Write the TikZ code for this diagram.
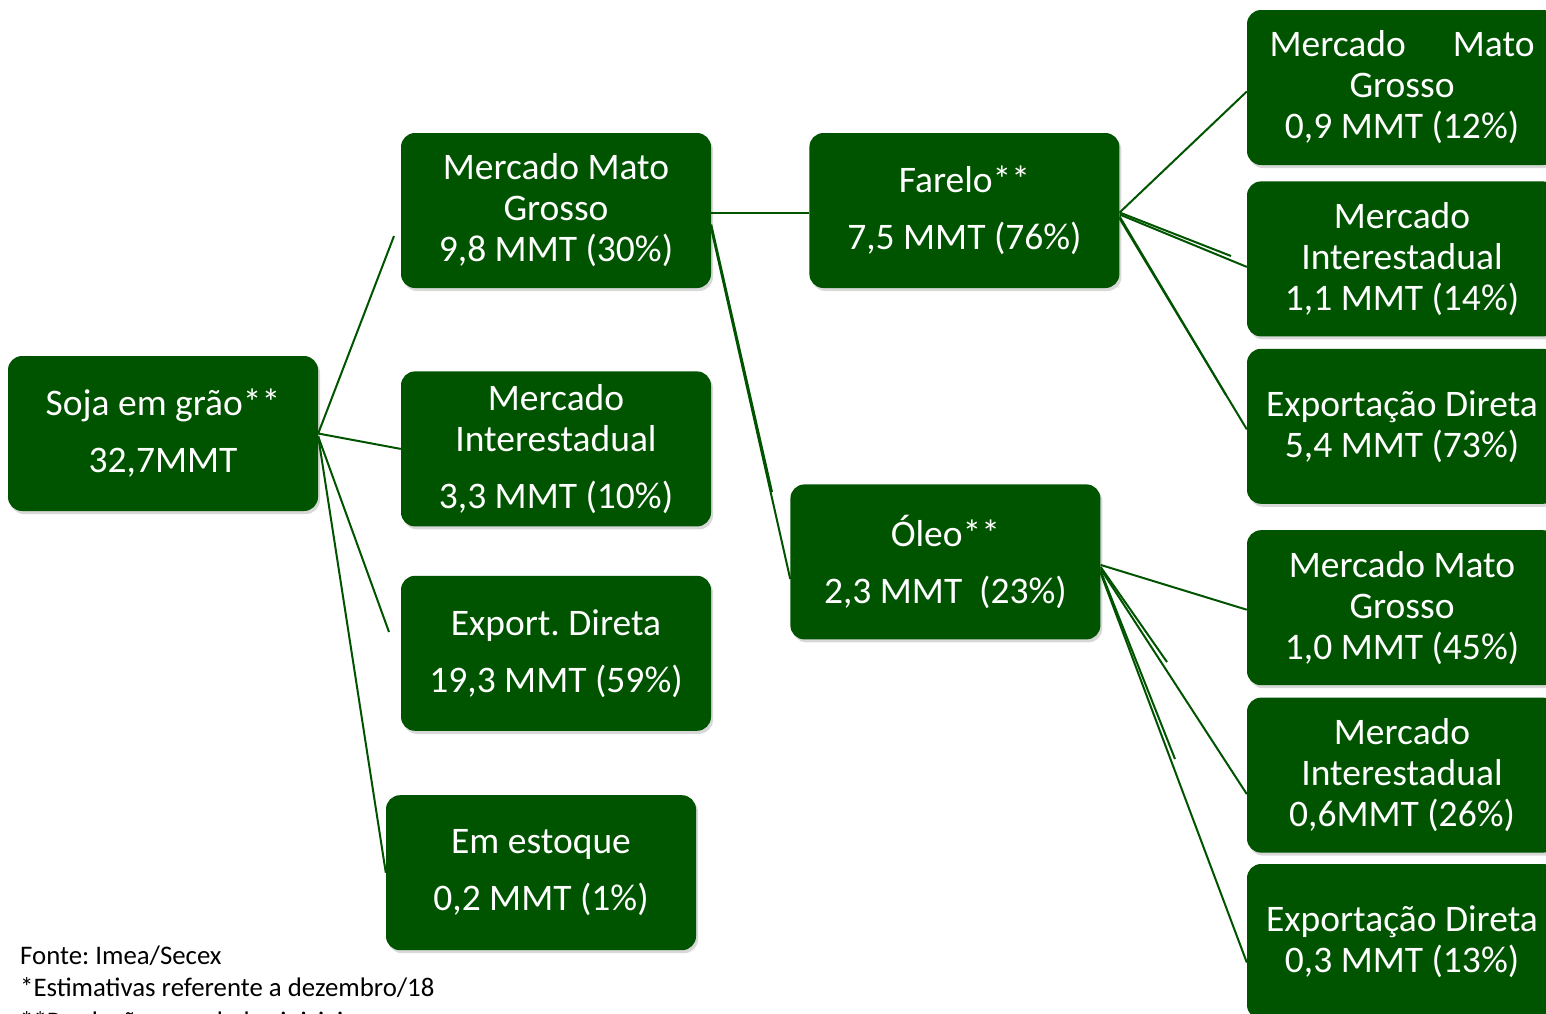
\documentclass[tikz,border=0pt]{standalone}
\usepackage{fontspec}
\setmainfont{Carlito}
\usetikzlibrary{positioning,shadows}
\definecolor{soygreen}{RGB}{0,84,0}
\frenchspacing

\begin{document}
\begin{tikzpicture}[x=1pt,y=-1pt]
	\tikzset{box/.style={fill=soygreen, text=white, rounded corners=14pt,
			minimum width=310pt, minimum height=155pt, inner sep=0pt, align=center,
			font=\fontsize{37.5}{41}\selectfont,
			drop shadow={shadow xshift=2pt, shadow yshift=-3pt, opacity=0.3}}}
	\tikzset{link/.style={draw=soygreen, line width=2pt}}
	\tikzset{note/.style={anchor=base west, inner sep=0pt, font=\fontsize{26.8}{32}\selectfont}}
	\useasboundingbox (0,0) rectangle (1546,1013);
	\clip (0,0) rectangle (1546,1013);
	\fill[white] (0,0) rectangle (1546,1013);

	\node[box] (soja) at (163,433.5) {Soja em grão**\\[16pt]32,7MMT};
	\node[box] (mmgA) at (556,210.5) {Mercado Mato\\Grosso\\9,8 MMT (30\%)};
	\node[box, below=83pt of mmgA] (miA) {Mercado\\Interestadual\\[16pt]3,3 MMT (10\%)};
	\node[box, below=49pt of miA] (expA) {Export. Direta\\[16pt]19,3 MMT (59\%)};
	\node[box, below=64pt of expA, xshift=-15pt] (estq) {Em estoque\\[16pt]0,2 MMT (1\%)};
	\node[box, right=98pt of mmgA] (farelo) {Farelo**\\[16pt]7,5 MMT (76\%)};
	\node[box, below=196pt of farelo, xshift=-19pt] (oleo) {Óleo**\\[16pt]2,3 MMT\ \ (23\%)};

	\node[box] (rA) at (1402,87.5) {\makebox[265pt]{Mercado\hfill Mato}\\Grosso\\0,9 MMT (12\%)};
	\node[box, below=16pt of rA] (rB) {Mercado\\Interestadual\\1,1 MMT (14\%)};
	\node[box, below=12pt of rB] (rC) {Exportação Direta\\5,4 MMT (73\%)};
	\node[box, below=26pt of rC] (rD) {Mercado Mato\\Grosso\\1,0 MMT (45\%)};
	\node[box, below=12pt of rD] (rE) {Mercado\\Interestadual\\0,6MMT (26\%)};
	\node[box, below=11pt of rE] (rF) {Exportação Direta\\0,3 MMT (13\%)};

	% loose ends
	\coordinate (sMmg) at (394,236);
	\coordinate (sExp) at (389,632);
	\coordinate (sOleo) at (772,492);
	\coordinate (sRB) at (1231,256);
	\coordinate (sRC) at (1226,395);
	\coordinate (sRE) at (1167,662);
	\coordinate (sRF) at (1175,759);

	\draw[link] (soja.east) -- (sMmg);
	\draw[link] (soja.east) -- (miA.west);
	\draw[link] ([yshift=-3pt]soja.east) -- (sExp);
	\draw[link] ([yshift=-3pt]soja.east) -- (estq.west);

	\draw[link] ([yshift=-2pt]mmgA.east) -- ([yshift=-2pt]farelo.west);
	\draw[link] ([yshift=-14pt]mmgA.east) -- (sOleo);
	\draw[link] ([yshift=-18pt]mmgA.east) -- ([yshift=-17pt]oleo.west);

	\draw[link] ([yshift=-2pt]farelo.east) -- ([yshift=-4pt]rA.west);
	\draw[link] ([yshift=-2pt]farelo.east) -- (sRB);
	\draw[link] ([yshift=-4pt]farelo.east) -- ([yshift=-8pt]rB.west);
	\draw[link] ([yshift=-6pt]farelo.east) -- (sRC);
	\draw[link] ([yshift=-8pt]farelo.east) -- ([yshift=-3pt]rC.west);

	\draw[link] ([yshift=-3pt]oleo.east) -- ([yshift=-2pt]rD.west);
	\draw[link] ([yshift=-5pt]oleo.east) -- (sRE);
	\draw[link] ([yshift=-7pt]oleo.east) -- ([yshift=-19pt]rE.west);
	\draw[link] ([yshift=-9pt]oleo.east) -- (sRF);
	\draw[link] ([yshift=-11pt]oleo.east) -- ([yshift=-21pt]rF.west);

	\node[note] (fonte) at (20,964) {Fonte: Imea/Secex};
	\node[note] (estim) at (20,996) {*Estimativas referente a dezembro/18};
	\node[note] (prod) at (20,1030) {**Produção com dados iniciais};
\end{tikzpicture}
\end{document}
